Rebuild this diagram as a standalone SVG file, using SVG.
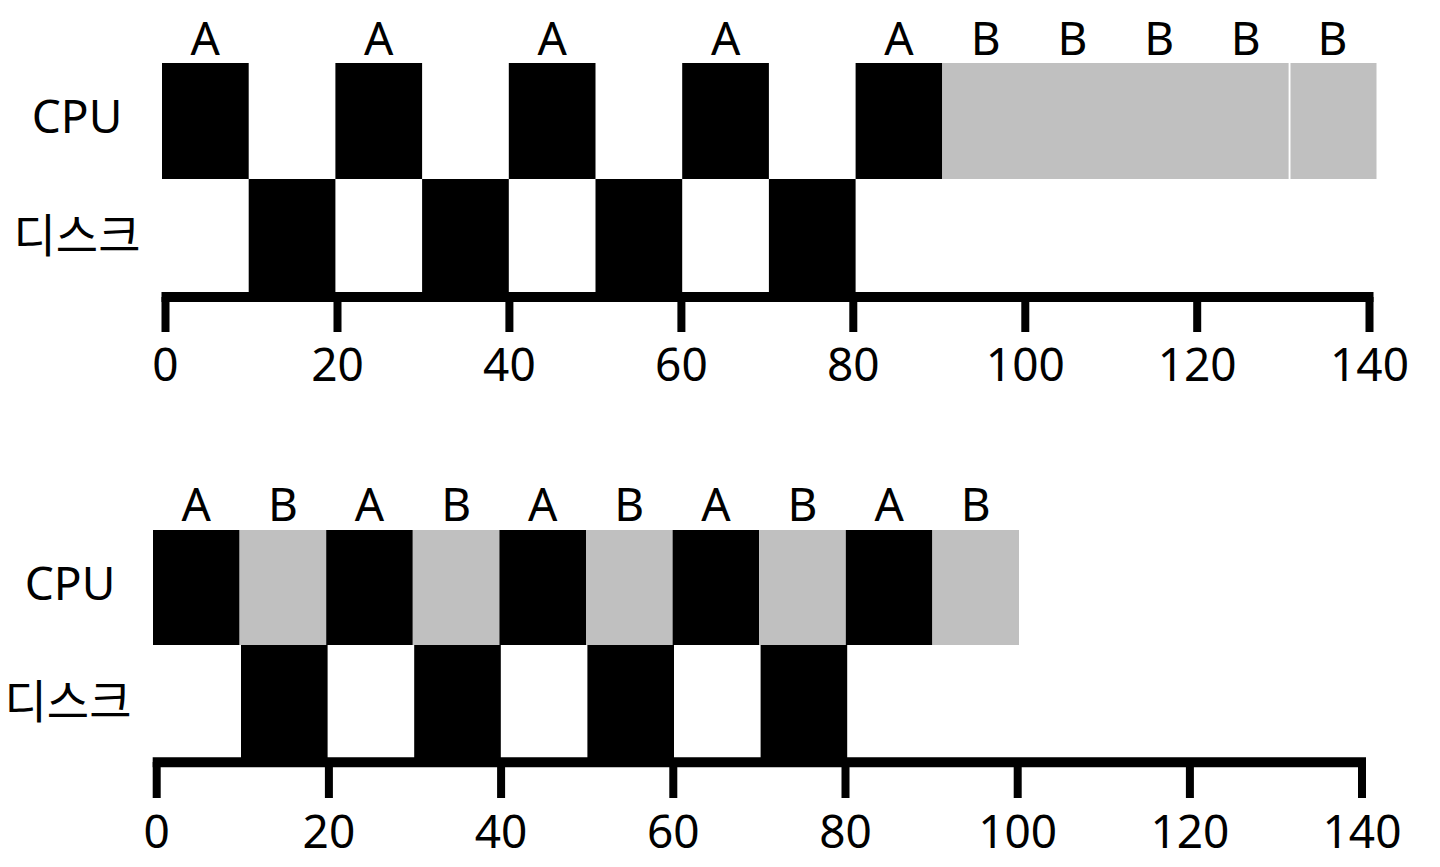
<svg xmlns="http://www.w3.org/2000/svg" width="1440" height="867" viewBox="0 0 1440 867">
<style>
.a{fill:#000}
.b{fill:#c0c0c0}
.t{font-family:"Noto Sans","Noto Sans CJK KR",sans-serif;font-size:46px;fill:#000;text-anchor:middle}
.ax{stroke:#000;fill:none}
</style>
<rect width="1440" height="867" fill="#fff"/>
<g id="top-chart">
  <g id="top-labels">
    <text class="t" x="77" y="133">CPU</text>
    <text class="t" x="77" y="252">디스크</text>
  </g>
  <g id="top-cpu">
    <rect class="a" x="162" y="63" width="86.7" height="116"/>
    <rect class="a" x="335.4" y="63" width="86.7" height="116"/>
    <rect class="a" x="508.8" y="63" width="86.7" height="116"/>
    <rect class="a" x="682.2" y="63" width="86.7" height="116"/>
    <rect class="a" x="855.6" y="63" width="86.7" height="116"/>
    <rect class="b" x="942.3" y="63" width="346.3" height="116"/>
    <rect class="b" x="1290.5" y="63" width="86" height="116"/>
  </g>
  <g id="top-disk">
    <rect class="a" x="248.7" y="179" width="86.7" height="114"/>
    <rect class="a" x="422.1" y="179" width="86.7" height="114"/>
    <rect class="a" x="595.5" y="179" width="86.7" height="114"/>
    <rect class="a" x="768.9" y="179" width="86.7" height="114"/>
  </g>
  <g id="top-job-labels">
    <text class="t" x="205.3" y="55">A</text>
    <text class="t" x="378.8" y="55">A</text>
    <text class="t" x="552.2" y="55">A</text>
    <text class="t" x="725.6" y="55">A</text>
    <text class="t" x="899" y="55">A</text>
    <text class="t" x="985.7" y="55">B</text>
    <text class="t" x="1072.4" y="55">B</text>
    <text class="t" x="1159.1" y="55">B</text>
    <text class="t" x="1245.8" y="55">B</text>
    <text class="t" x="1332.5" y="55">B</text>
  </g>
  <g id="top-axis">
    <line class="ax" x1="161.5" y1="297" x2="1373.5" y2="297" stroke-width="10"/>
    <path class="ax" stroke-width="8" d="M165.5,297V332M337.5,297V332M509.4,297V332M681.4,297V332M853.3,297V332M1025.3,297V332M1197.2,297V332M1369.5,297V332"/>
    <text class="t" x="165.5" y="381">0</text>
    <text class="t" x="337.5" y="381">20</text>
    <text class="t" x="509.4" y="381">40</text>
    <text class="t" x="681.4" y="381">60</text>
    <text class="t" x="853.3" y="381">80</text>
    <text class="t" x="1025.3" y="381">100</text>
    <text class="t" x="1197.2" y="381">120</text>
    <text class="t" x="1369.5" y="381">140</text>
  </g>
</g>
<g id="bottom-chart">
  <g id="bottom-labels">
    <text class="t" x="70" y="600">CPU</text>
    <text class="t" x="68" y="718">디스크</text>
  </g>
  <g id="bottom-cpu">
    <rect class="a" x="153" y="530" width="86.6" height="115"/>
    <rect class="b" x="239.6" y="530" width="86.6" height="115"/>
    <rect class="a" x="326.2" y="530" width="86.6" height="115"/>
    <rect class="b" x="412.8" y="530" width="86.6" height="115"/>
    <rect class="a" x="499.4" y="530" width="86.6" height="115"/>
    <rect class="b" x="586" y="530" width="86.6" height="115"/>
    <rect class="a" x="672.6" y="530" width="86.6" height="115"/>
    <rect class="b" x="759.2" y="530" width="86.6" height="115"/>
    <rect class="a" x="845.8" y="530" width="86.6" height="115"/>
    <rect class="b" x="932.4" y="530" width="86.6" height="115"/>
  </g>
  <g id="bottom-disk">
    <rect class="a" x="241" y="645" width="86.6" height="114"/>
    <rect class="a" x="414.2" y="645" width="86.6" height="114"/>
    <rect class="a" x="587.4" y="645" width="86.6" height="114"/>
    <rect class="a" x="760.6" y="645" width="86.6" height="114"/>
  </g>
  <g id="bottom-job-labels">
    <text class="t" x="196.3" y="521">A</text>
    <text class="t" x="282.9" y="521">B</text>
    <text class="t" x="369.5" y="521">A</text>
    <text class="t" x="456.1" y="521">B</text>
    <text class="t" x="542.7" y="521">A</text>
    <text class="t" x="629.3" y="521">B</text>
    <text class="t" x="715.9" y="521">A</text>
    <text class="t" x="802.5" y="521">B</text>
    <text class="t" x="889.1" y="521">A</text>
    <text class="t" x="975.7" y="521">B</text>
  </g>
  <g id="bottom-axis">
    <line class="ax" x1="152.7" y1="762.3" x2="1366" y2="762.3" stroke-width="10"/>
    <path class="ax" stroke-width="8" d="M156.7,762V798M328.9,762V798M501.1,762V798M673.3,762V798M845.5,762V798M1017.7,762V798M1189.9,762V798M1362,762V798"/>
    <text class="t" x="156.7" y="848">0</text>
    <text class="t" x="328.9" y="848">20</text>
    <text class="t" x="501.1" y="848">40</text>
    <text class="t" x="673.3" y="848">60</text>
    <text class="t" x="845.5" y="848">80</text>
    <text class="t" x="1017.7" y="848">100</text>
    <text class="t" x="1189.9" y="848">120</text>
    <text class="t" x="1362" y="848">140</text>
  </g>
</g>
</svg>
